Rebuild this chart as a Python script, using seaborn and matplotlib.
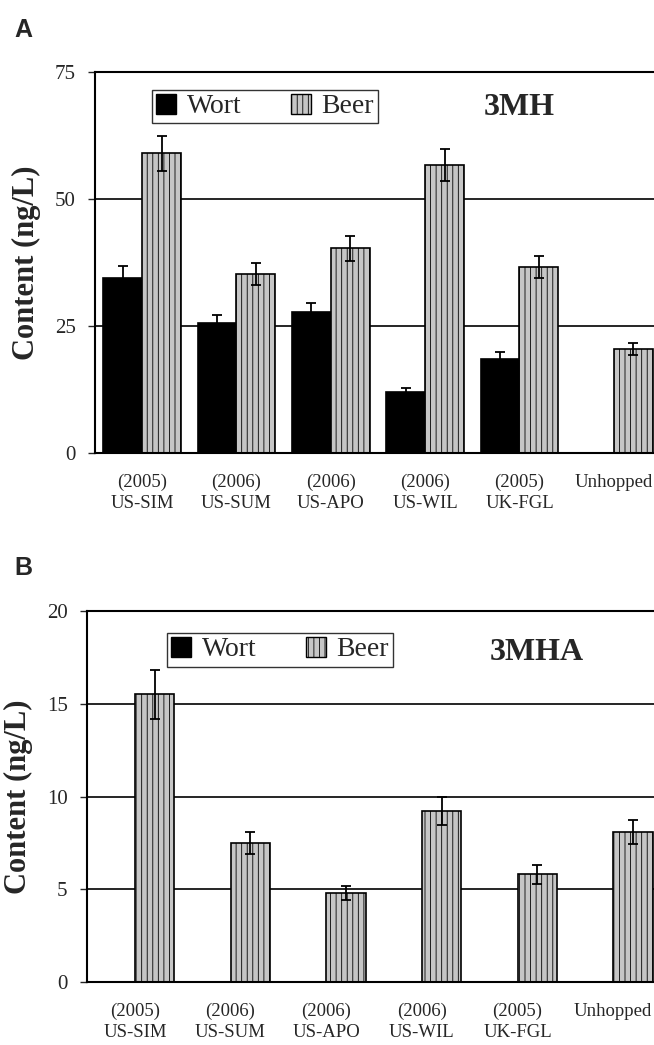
"""
Wort vs beer thiol content for five hop varieties plus an unhopped control.
Panel A: 3MH, panel B: 3MHA.
"""

import matplotlib.pyplot as plt
import numpy as np
import pandas as pd
import seaborn as sns
from matplotlib.patches import Patch

# --- Data ---
YEARS = ["(2005)", "(2006)", "(2006)", "(2006)", "(2005)", ""]
HOPS = ["US-SIM", "US-SUM", "US-APO", "US-WIL", "UK-FGL", "Unhopped"]

MH_WORT = [34.5, 25.5, 27.8, 12.0, 18.5, np.nan]
MH_WORT_ERR = [2.3, 1.7, 1.8, 0.8, 1.3, 0.0]
MH_BEER = [59.0, 35.2, 40.3, 56.7, 36.6, 20.5]
MH_BEER_ERR = [3.5, 2.2, 2.5, 3.2, 2.2, 1.2]

MHA_WORT = [0.0, 0.0, 0.0, 0.0, 0.0, np.nan]
MHA_WORT_ERR = [0.0, 0.0, 0.0, 0.0, 0.0, 0.0]
MHA_BEER = [15.5, 7.5, 4.8, 9.2, 5.8, 8.1]
MHA_BEER_ERR = [1.3, 0.6, 0.4, 0.75, 0.5, 0.65]

SERIES = ["Wort", "Beer"]
COLORS = {"Wort": "black", "Beer": "#c6c6c6"}
HATCH = "|||"

SERIF = "Liberation Serif"
SANS = "Liberation Sans"

sns.set_theme(style="white")
plt.rcParams["font.family"] = [SERIF, "DejaVu Serif"]
plt.rcParams["hatch.color"] = "#a4a4a4"
plt.rcParams["hatch.linewidth"] = 0.6


def make_frame(wort, beer):
    rows = []
    for series, vals in (("Wort", wort), ("Beer", beer)):
        for hop, v in zip(HOPS, vals):
            rows.append({"hop": hop, "series": series, "value": v})
    return pd.DataFrame(rows)


def draw_panel(ax, wort, wort_err, beer, beer_err, ymax, step, name, legend_xy, name_xy):
    df = make_frame(wort, beer)
    sns.barplot(
        data=df, x="hop", y="value", hue="series", order=HOPS, hue_order=SERIES,
        palette=COLORS, width=0.826, dodge=True, legend=False, ax=ax,
        edgecolor="black", linewidth=1.2, errorbar=None, saturation=1,
    )
    # hatch the beer bars and add the error bars
    for cont, errs, series in zip(ax.containers, (wort_err, beer_err), SERIES):
        for bar, err in zip(cont, errs):
            bar.set_zorder(2)
            if series == "Beer":
                bar.set_hatch(HATCH)
            h = bar.get_height()
            if np.isnan(h) or err <= 0:
                continue
            xc = bar.get_x() + bar.get_width() / 2
            ax.errorbar(xc, h, yerr=err, fmt="none", ecolor="black",
                        elinewidth=1.3, capsize=3.8, capthick=1.3, zorder=4)

    ax.set_xlim(-0.5, len(HOPS) - 0.5)
    ax.set_ylim(0, ymax)
    ticks = np.arange(0, ymax + step / 2, step)
    ax.set_yticks(ticks)
    ax.set_yticklabels([f"{t:g}" for t in ticks], fontsize=15)
    for t in ticks[1:]:
        ax.axhline(t, color="black", linewidth=1.2, zorder=0.5)

    labels = [f"{y}\n{h}" if y else h for y, h in zip(YEARS, HOPS)]
    ax.set_xticks(range(len(HOPS)))
    ax.set_xticklabels(labels, fontsize=13.5, linespacing=1.3)
    # the unhopped label sits on the first line
    ax.get_xticklabels()[-1].set_verticalalignment("top")
    ax.tick_params(axis="x", length=0, pad=15)
    ax.set_xticks(np.arange(0.5, len(HOPS) - 0.5), minor=True)
    ax.tick_params(axis="x", which="minor", length=4, direction="in", width=0.6,
                   color="#999999")
    ax.tick_params(axis="y", length=5, direction="out", width=1.0, left=True, pad=9)

    ax.set_xlabel(None)
    ax.set_ylabel("Content (ng/L)", fontsize=22, fontweight="bold", labelpad=10)

    for side in ("left", "bottom", "top"):
        ax.spines[side].set_visible(True)
        ax.spines[side].set_color("black")
        ax.spines[side].set_linewidth(1.5)
    ax.spines["right"].set_visible(False)

    handles = [
        Patch(facecolor=COLORS["Wort"], edgecolor="black", label="Wort"),
        Patch(facecolor=COLORS["Beer"], edgecolor="black", hatch=HATCH, label="Beer"),
    ]
    leg = ax.legend(
        handles=handles, loc="center left", bbox_to_anchor=legend_xy, ncol=2,
        fontsize=20, frameon=True, fancybox=False, handlelength=0.72,
        handleheight=0.72, handletextpad=0.4, columnspacing=1.75,
        borderpad=0.15, borderaxespad=0,
    )
    leg.get_frame().set_edgecolor("black")
    leg.get_frame().set_linewidth(1.0)
    ax.text(*name_xy, name, transform=ax.transAxes, fontsize=23,
            fontweight="bold", ha="left", va="center")


def main():
    fig = plt.figure(figsize=(6.54, 10.45), dpi=100)
    ax_a = fig.add_axes([95 / 654, 1 - 453 / 1045, 566 / 654, 381 / 1045])
    ax_b = fig.add_axes([87 / 654, 1 - 982 / 1045, 574 / 654, 371 / 1045])

    draw_panel(ax_a, MH_WORT, MH_WORT_ERR, MH_BEER, MH_BEER_ERR, 75, 25,
               "3MH", (0.1007, 0.9094), (0.687, 0.908))
    draw_panel(ax_b, MHA_WORT, MHA_WORT_ERR, MHA_BEER, MHA_BEER_ERR, 20, 5,
               "3MHA", (0.1394, 0.896), (0.702, 0.889))

    fig.text(0.022, 0.971, "A", family=SANS, fontsize=18, fontweight="bold", va="center")
    fig.text(0.022, 0.456, "B", family=SANS, fontsize=18, fontweight="bold", va="center")

    fig.savefig("out.png", dpi=100)
    plt.close(fig)


if __name__ == "__main__":
    main()
